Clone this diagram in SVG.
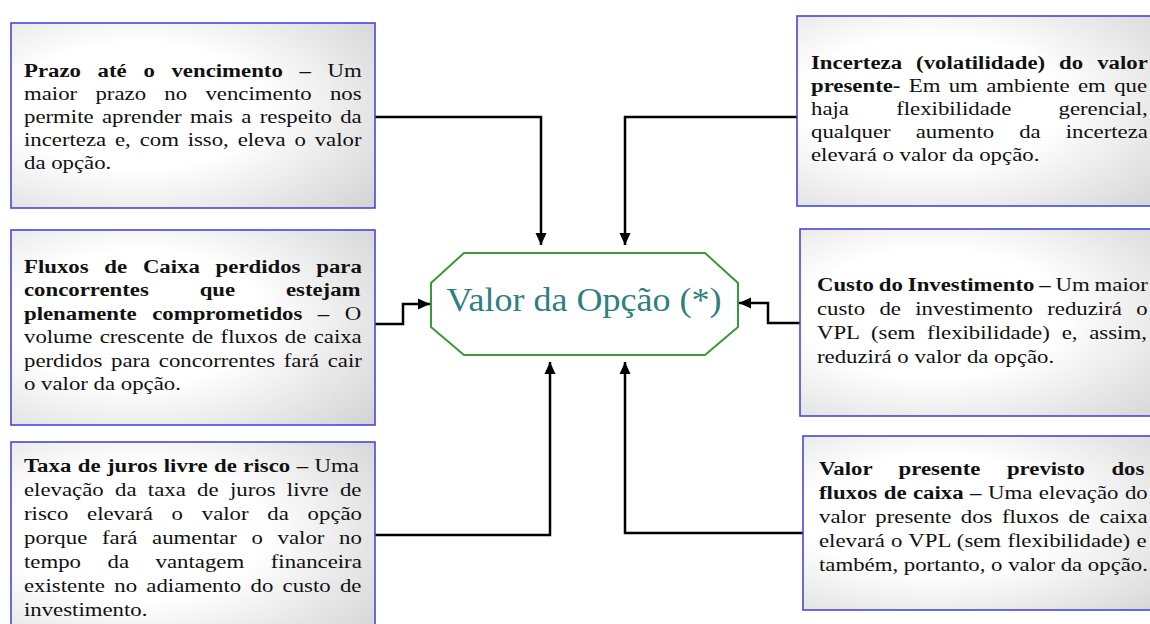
<svg xmlns="http://www.w3.org/2000/svg" width="1150" height="624" viewBox="0 0 1150 624">
<defs>
<radialGradient id="boxfill" cx="0.35" cy="0.45" r="0.85">
<stop offset="0.4" stop-color="#ffffff"/>
<stop offset="1" stop-color="#d2d2d2"/>
</radialGradient>
<marker id="arrow" markerUnits="userSpaceOnUse" viewBox="0 0 12 12" refX="12" refY="6" markerWidth="12" markerHeight="12" orient="auto">
<path d="M0,0.5 L12,6 L0,11.5 z" fill="#000"/>
</marker>
</defs>
<style>
.box { fill: url(#boxfill); stroke: #4646dc; stroke-width: 1.6; }
.t { font-family: "Liberation Serif", "Times New Roman", serif; font-size: 19px; fill: #111; }
.b { font-weight: bold; }
.conn { fill: none; stroke: #000; stroke-width: 2.5; marker-end: url(#arrow); }
.oct { fill: #fff; stroke: #3a9a3a; stroke-width: 2; }
.title { font-family: "Liberation Serif", "Times New Roman", serif; font-size: 33px; fill: #2f7f80; }
</style>
<rect width="1150" height="624" fill="#fff"/>

<g id="connectors">
<path class="conn" d="M375,117 H541 V245"/>
<path class="conn" d="M797,117 H625 V245"/>
<path class="conn" d="M375,324 H403 V304 H430"/>
<path class="conn" d="M800,323 H768 V303 H739"/>
<path class="conn" d="M375,535 H550 V362"/>
<path class="conn" d="M805,539 V533 H625 V362"/>
</g>

<g id="node-prazo">
<rect class="box" x="11" y="23" width="364" height="185"/>
<g transform="translate(24,0) scale(1.2,1)">
<text class="t" x="0" y="77" style="word-spacing:9.16px"><tspan class="b">Prazo até o vencimento –</tspan> Um</text>
<text class="t" x="0" y="100" style="word-spacing:10.5px">maior prazo no vencimento nos</text>
<text class="t" x="0" y="123" style="word-spacing:2.2px">permite aprender mais a respeito da</text>
<text class="t" x="0" y="146" style="word-spacing:2.6px">incerteza e, com isso, eleva o valor</text>
<text class="t" x="0" y="169">da opção.</text>
</g>
</g>

<g id="node-fluxos-perdidos">
<rect class="box" x="11" y="230" width="364" height="195"/>
<g transform="translate(24,0) scale(1.2,1)">
<text class="t b" x="0" y="273" style="word-spacing:8.4px">Fluxos de Caixa perdidos para</text>
<text class="t b" x="0" y="296.5" style="word-spacing:37.6px">concorrentes que estejam</text>
<text class="t" x="0" y="320" style="word-spacing:8.2px"><tspan class="b">plenamente comprometidos –</tspan> O</text>
<text class="t" x="0" y="343.5" style="word-spacing:1.36px">volume crescente de fluxos de caixa</text>
<text class="t" x="0" y="367" style="word-spacing:2.4px">perdidos para concorrentes fará cair</text>
<text class="t" x="0" y="390.5">o valor da opção.</text>
</g>
</g>

<g id="node-taxa-juros">
<rect class="box" x="11" y="442" width="364" height="200"/>
<g transform="translate(24,0) scale(1.2,1)">
<text class="t" x="0" y="472" style="word-spacing:0.66px"><tspan class="b">Taxa de juros livre de risco –</tspan> Uma</text>
<text class="t" x="0" y="496" style="word-spacing:4.7px">elevação da taxa de juros livre de</text>
<text class="t" x="0" y="520" style="word-spacing:10.9px">risco elevará o valor da opção</text>
<text class="t" x="0" y="544" style="word-spacing:7.5px">porque fará aumentar o valor no</text>
<text class="t" x="0" y="568" style="word-spacing:17.4px">tempo da vantagem financeira</text>
<text class="t" x="0" y="592" style="word-spacing:3px">existente no adiamento do custo de</text>
<text class="t" x="0" y="616">investimento.</text>
</g>
</g>

<g id="node-incerteza">
<rect class="box" x="797" y="16" width="380" height="190"/>
<g transform="translate(811,0) scale(1.2,1)">
<text class="t b" x="0" y="69" style="word-spacing:6.9px">Incerteza (volatilidade) do valor</text>
<text class="t" x="0" y="92" style="word-spacing:2.2px"><tspan class="b">presente-</tspan> Em um ambiente em que</text>
<text class="t" x="0" y="115" style="word-spacing:34.6px">haja flexibilidade gerencial,</text>
<text class="t" x="0" y="138" style="word-spacing:16.1px">qualquer aumento da incerteza</text>
<text class="t" x="0" y="161">elevará o valor da opção.</text>
</g>
</g>

<g id="node-custo">
<rect class="box" x="800" y="229" width="380" height="187"/>
<g transform="translate(817,0) scale(1.2,1)">
<text class="t" x="0" y="291" style="word-spacing:-0.67px"><tspan class="b">Custo do Investimento –</tspan> Um maior</text>
<text class="t" x="0" y="315" style="word-spacing:7.2px">custo de investimento reduzirá o</text>
<text class="t" x="0" y="339" style="word-spacing:5.1px">VPL (sem flexibilidade) e, assim,</text>
<text class="t" x="0" y="363">reduzirá o valor da opção.</text>
</g>
</g>

<g id="node-valor-presente">
<rect class="box" x="803" y="436" width="380" height="174"/>
<g transform="translate(819,0) scale(1.2,1)">
<text class="t b" x="0" y="475" style="word-spacing:17.3px">Valor presente previsto dos</text>
<text class="t" x="0" y="499" style="word-spacing:0.67px"><tspan class="b">fluxos de caixa –</tspan> Uma elevação do</text>
<text class="t" x="0" y="523" style="word-spacing:3.2px">valor presente dos fluxos de caixa</text>
<text class="t" x="0" y="547" style="word-spacing:0.5px">elevará o VPL (sem flexibilidade) e</text>
<text class="t" x="0" y="571">também, portanto, o valor da opção.</text>
</g>
</g>

<g id="node-valor-opcao">
<polygon class="oct" points="464,253 705,253 738,283 738,327 705,355 464,355 431,327 431,283"/>
<text class="title" x="584" y="311" text-anchor="middle" textLength="275" lengthAdjust="spacingAndGlyphs">Valor da Opção (*)</text>
</g>
</svg>
